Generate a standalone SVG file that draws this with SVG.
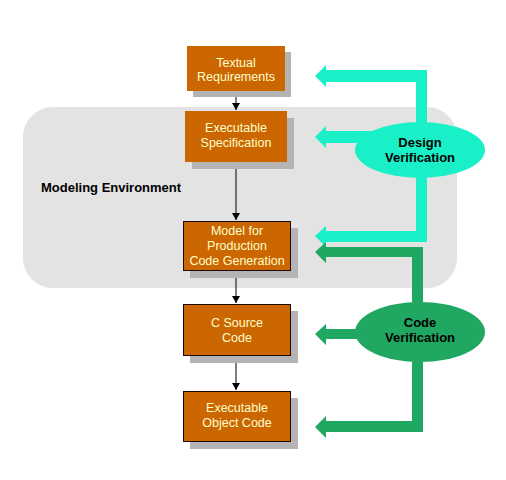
<svg xmlns="http://www.w3.org/2000/svg" width="506" height="480" viewBox="0 0 506 480">
<style>
.box{fill:#cc6600}
.bd{stroke:#1a0a00;stroke-width:1}
.sh{fill:#b4b4b4}
.bt{font-family:"Liberation Sans",Arial,sans-serif;font-size:12.5px;fill:#ffffcc;text-anchor:middle}
.vt{font-family:"Liberation Sans",Arial,sans-serif;font-size:13px;font-weight:bold;fill:#000;text-anchor:middle}
.cy{fill:#1af0c8}
.gr{fill:#20a862}
.ln{stroke:#000;stroke-width:1;fill:none}
</style>
<defs>
<marker id="ah" markerWidth="8" markerHeight="8" refX="7" refY="4" orient="auto" markerUnits="userSpaceOnUse">
<path d="M0,0 L7,4 L0,8 Z" fill="#000"/>
</marker>
</defs>
<rect width="506" height="480" fill="#fff"/>
<g id="modeling-environment">
<rect x="23" y="107" width="434" height="181" rx="30" ry="30" fill="#e3e3e3"/>
<text x="41" y="192" font-family="'Liberation Sans',Arial,sans-serif" font-size="13px" font-weight="bold" fill="#000">Modeling Environment</text>
</g>
<g id="connectors">
<line class="ln" x1="236" y1="91" x2="236" y2="110" marker-end="url(#ah)"/>
<line class="ln" x1="236" y1="162" x2="236" y2="220" marker-end="url(#ah)"/>
<line class="ln" x1="236" y1="271" x2="236" y2="303" marker-end="url(#ah)"/>
<line class="ln" x1="236" y1="356" x2="236" y2="390" marker-end="url(#ah)"/>
<g id="design-arrows">
<rect class="cy" x="416" y="70" width="11" height="172"/>
<path class="cy" d="M315,76 L326,65 L326,70 L427,70 L427,82 L326,82 L326,87 Z"/>
<path class="cy" d="M315,137 L326,126 L326,131 L380,131 L380,143 L326,143 L326,148 Z"/>
<path class="cy" d="M315,236 L326,226 L326,231 L427,231 L427,242 L326,242 L326,247 Z"/>
</g>
<g id="code-arrows">
<rect class="gr" x="412" y="247" width="11" height="185"/>
<path class="gr" d="M315,252 L326,242 L326,247 L423,247 L423,257 L326,257 L326,263 Z"/>
<path class="gr" d="M315,334 L326,324 L326,329 L380,329 L380,339 L326,339 L326,345 Z"/>
<path class="gr" d="M315,427 L326,416 L326,421 L423,421 L423,432 L326,432 L326,438 Z"/>
</g>
</g>
<g id="design-verification">
<ellipse class="cy" cx="420" cy="150" rx="65" ry="28"/>
<text class="vt" x="420" y="147">Design</text>
<text class="vt" x="420" y="162">Verification</text>
</g>
<g id="code-verification">
<ellipse class="gr" cx="420" cy="332" rx="65" ry="30"/>
<text class="vt" x="420" y="327">Code</text>
<text class="vt" x="420" y="342">Verification</text>
</g>
<g id="textual-requirements">
<rect class="sh" x="193" y="52" width="98" height="45"/>
<rect class="box" x="187" y="46" width="98" height="45"/>
<text class="bt" x="236" y="67">Textual</text>
<text class="bt" x="236" y="81">Requirements</text>
</g>
<g id="executable-specification">
<rect class="sh" x="192" y="118" width="102" height="51"/>
<rect class="box" x="185" y="111" width="102" height="51"/>
<text class="bt" x="236" y="132">Executable</text>
<text class="bt" x="236" y="147">Specification</text>
</g>
<g id="model-production">
<rect class="sh" x="190" y="228" width="108" height="50"/>
<rect class="box bd" x="183.5" y="221.5" width="107" height="49"/>
<text class="bt" x="237" y="235">Model for</text>
<text class="bt" x="237" y="250">Production</text>
<text class="bt" x="237" y="265">Code Generation</text>
</g>
<g id="c-source-code">
<rect class="sh" x="190" y="311" width="108" height="52"/>
<rect class="box bd" x="183.5" y="304.5" width="107" height="51"/>
<text class="bt" x="237" y="327">C Source</text>
<text class="bt" x="237" y="342">Code</text>
</g>
<g id="executable-object-code">
<rect class="sh" x="190" y="398" width="108" height="51"/>
<rect class="box bd" x="183.5" y="391.5" width="107" height="50"/>
<text class="bt" x="237" y="412">Executable</text>
<text class="bt" x="237" y="427">Object Code</text>
</g>
</svg>
